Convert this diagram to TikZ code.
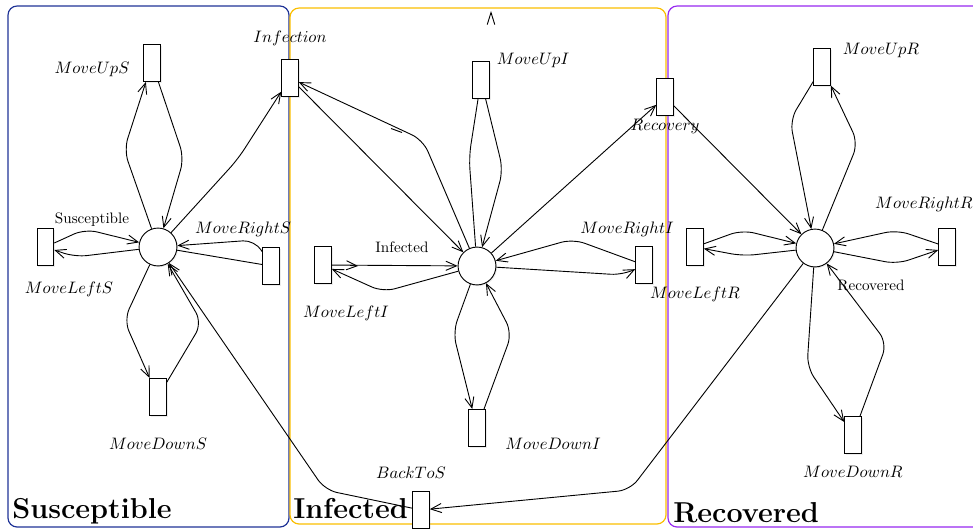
\documentclass[tikz,border=0pt]{standalone}
\usepackage{amssymb,amsmath}
\usetikzlibrary{%
  arrows.meta,%
  shadows%
}
\definecolor{scol}{RGB}{30,50,150}
\definecolor{icol}{RGB}{250,190,0}
\definecolor{rcol}{RGB}{150,40,240}
\tikzset{>={Straight Barb[length=7pt,width=6pt]}}
\tikzset{
  place/.style={circle,draw,fill=white,semithick,minimum size=25pt,inner sep=0pt,
    drop shadow={opacity=0.15,shadow xshift=0.8pt,shadow yshift=-0.8pt}},
  trans/.style={rectangle,draw,fill=white,semithick,minimum width=11pt,
    minimum height=24.5pt,inner sep=0pt,
    drop shadow={opacity=0.15,shadow xshift=0.8pt,shadow yshift=-0.8pt}},
  lbl/.style={inner sep=1pt},
  tlbl/.style={inner sep=1pt,font=\fontsize{10.6}{13}\selectfont},
  title/.style={anchor=base west,inner sep=0pt,font=\fontsize{19}{22}\selectfont\bfseries},
  zone/.style={rounded corners=6pt,thick},
  flow/.style={->,semithick,rounded corners=8pt}
}

\begin{document}
\begin{tikzpicture}[x=0.66pt,y=-0.66pt]
    \useasboundingbox (0,0) rectangle (973,528);
    % zones
    \draw[zone,scol] (8,6) rectangle (289,527);
    \draw[zone,icol] (290,8) rectangle (666,524);
    \draw[zone,rcol] (668,6) rectangle (995,527);
    \node[title] (tS) at (12,518) {Susceptible};
    \node[title] (tI) at (293,518) {Infected};
    \node[title] (tR) at (673,522) {Recovered};

    % places
    \node[place] (S) at (158,247) {};
    \node[place] (I) at (477,266) {};
    \node[place] (R) at (815,248) {};
    \node[lbl] (lS) at (92,220) {Susceptible};
    \node[lbl] (lI) at (402,247) {Infected};
    \node[lbl] (lR) at (871,285) {Recovered};

    % transitions
    \node[trans] (MoveUpS) at (152,63) {};
    \node[trans] (Infection) at (290,78) {};
    \node[trans] (MoveLeftS) at (45.5,247) {};
    \node[trans] (MoveRightS) at (271,266) {};
    \node[trans] (MoveDownS) at (158,397) {};
    \node[trans] (MoveUpI) at (481,80) {};
    \node[trans] (Recovery) at (665,97) {};
    \node[trans] (MoveLeftI) at (323,265) {};
    \node[trans] (MoveRightI) at (644,265) {};
    \node[trans] (MoveDownI) at (477,428) {};
    \node[trans] (BackToS) at (421,510) {};
    \node[trans] (MoveUpR) at (822,67) {};
    \node[trans] (MoveLeftR) at (695,247) {};
    \node[trans] (MoveRightR) at (947,247) {};
    \node[trans] (MoveDownR) at (853,435) {};

    \node[tlbl] (lMoveUpS) at (92,69) {$MoveUpS$};
    \node[tlbl] (lInfection) at (290,38) {$Infection$};
    \node[tlbl] (lMoveLeftS) at (69,289) {$MoveLeftS$};
    \node[tlbl] (lMoveRightS) at (243,229) {$MoveRightS$};
    \node[tlbl] (lMoveDownS) at (158,444) {$MoveDownS$};
    \node[tlbl] (lMoveUpI) at (533,60) {$MoveUpI$};
    \node[tlbl] (lRecovery) at (665,126) {$Recovery$};
    \node[tlbl] (lMoveLeftI) at (346,313) {$MoveLeftI$};
    \node[tlbl] (lMoveRightI) at (627,229) {$MoveRightI$};
    \node[tlbl] (lMoveDownI) at (553,444) {$MoveDownI$};
    \node[tlbl] (lBackToS) at (411,473) {$BackToS$};
    \node[tlbl] (lMoveUpR) at (881,50) {$MoveUpR$};
    \node[tlbl] (lMoveLeftR) at (695,294) {$MoveLeftR$};
    \node[tlbl] (lMoveRightR) at (924,204) {$MoveRightR$};
    \node[tlbl] (lMoveDownR) at (853,472) {$MoveDownR$};

    % susceptible arcs
    \draw[flow] (S) -- (124,150) -- (MoveUpS);
    \draw[flow] (MoveUpS) -- (184,158) -- (S);
    \draw[flow] (S) -- (238,159) -- (Infection);
    \draw[flow] (MoveLeftS) -- (85,229) -- (S);
    \draw[flow] (S) -- (75,257) -- (MoveLeftS);
    \draw[flow] (MoveRightS) -- (255,240) -- (S);
    \draw[semithick] (S) -- (MoveRightS);
    \draw[flow] (S) -- (124,320) -- (MoveDownS);
    \draw[flow] (MoveDownS) -- (202,323) -- (S);
    \draw[flow] (BackToS) -- (325,490) -- (S);

    % infected arcs
    \draw[flow] (Infection) -- (I);
    \draw[flow] (I) -- (423,140) -- (Infection);
    \draw[semithick,rounded corners=8pt] (I) -- (469,157) -- (MoveUpI);
    \draw[flow] (MoveUpI) -- (503,170) -- (I);
    \draw[flow] (I) -- (Recovery);
    \draw[flow] (MoveLeftI) -- (I);
    \draw[flow] (I) -- (383,292) -- (MoveLeftI);
    \draw[flow] (I) -- (623,275) -- (MoveRightI);
    \draw[flow] (MoveRightI) -- (573,239) -- (I);
    \draw[flow] (I) -- (453,332) -- (MoveDownI);
    \draw[flow] (MoveDownI) -- (512,333) -- (I);
    \draw[->,semithick] (350,265.5) -- (358,266);
    \draw[semithick] (391,128.5) -- (402,132.5);
    \draw[-{Straight Barb[length=8pt,width=5pt]},semithick] (491,14) -- (491,11);

    % recovered arcs
    \draw[flow] (Recovery) -- (R);
    \draw[flow] (MoveUpR) -- (790,120) -- (R);
    \draw[flow] (R) -- (858,143) -- (MoveUpR);
    \draw[flow] (MoveLeftR) -- (742,230) -- (R);
    \draw[flow] (R) -- (743,256) -- (MoveLeftR);
    \draw[flow] (MoveRightR) -- (897,230) -- (R);
    \draw[flow] (R) -- (897,264) -- (MoveRightR);
    \draw[flow] (R) -- (807,367) -- (MoveDownR);
    \draw[flow] (MoveDownR) -- (887,343) -- (R);
    \draw[flow] (R) -- (630,490) -- (BackToS);
\end{tikzpicture}
\end{document}
